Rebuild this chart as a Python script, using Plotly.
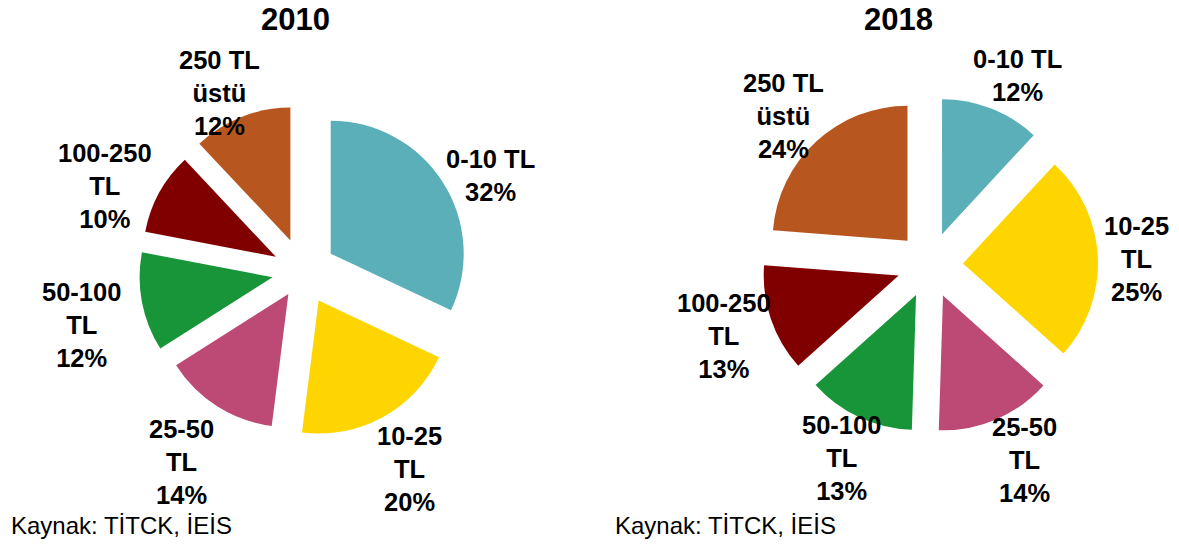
import math
import plotly.graph_objects as go

# price bands (label text with line breaks as in the source chart)
labels_2010 = ["0-10 TL", "10-25<br>TL", "25-50<br>TL", "50-100<br>TL", "100-250<br>TL", "250 TL<br>üstü"]
shares_2010 = [32, 20, 14, 12, 10, 12]

labels_2018 = ["0-10 TL", "10-25<br>TL", "25-50<br>TL", "50-100<br>TL", "100-250<br>TL", "250 TL<br>üstü"]
shares_2018 = [12, 25, 14, 13, 13, 24]

colors = ["#5BAFB9", "#FFD500", "#BC4A75", "#199539", "#800000", "#B8561F"]
font = "Arial, Liberation Sans, sans-serif"

W, H = 1179, 547
LABEL_RX, LABEL_RY = 224, 208   # label ring around each pie, px
LABEL_SIZE = 25.5


def make_pie(labels, values, pull, domain):
    return go.Pie(
        labels=labels,
        values=values,
        sort=False,
        direction="clockwise",
        rotation=0,
        pull=pull,
        marker=dict(colors=colors, line=dict(width=0)),
        textinfo="none",
        domain=domain,
        automargin=False,
        showlegend=False,
        hoverinfo="label+percent",
    )


def add_labels(fig, labels, values, domain, shift):
    # label ring centre in pixels (from the top-left); labels sit at slice mid angle
    cx = (domain["x"][0] + domain["x"][1]) / 2 * W + shift[0]
    cy = (1 - (domain["y"][0] + domain["y"][1]) / 2) * H + shift[1]
    total = sum(values)
    start = 0
    for lab, v in zip(labels, values):
        mid = (start + v / 2) / total * 2 * math.pi
        start += v
        x = cx + LABEL_RX * math.sin(mid)
        y = cy - LABEL_RY * math.cos(mid)
        # keep the label inside the page
        longest = max(len(s) for s in lab.split("<br>"))
        half_w = 0.3 * LABEL_SIZE * longest
        x = min(max(x, half_w + 4), W - 12 - half_w)
        pct = round(v / total * 100)
        fig.add_annotation(text="<b>%s<br>%d%%</b>" % (lab, pct),
                           x=x / W, y=1 - y / H, xref="paper", yref="paper",
                           xanchor="center", yanchor="middle", align="center",
                           showarrow=False,
                           font=dict(family=font, size=LABEL_SIZE, color="black"))


dom_2010 = dict(x=[0.1089, 0.3909], y=[0.2144, 0.8222])
dom_2018 = dict(x=[0.6395, 0.9245], y=[0.2230, 0.8373])

fig = go.Figure()
fig.add_trace(make_pie(labels_2010, shares_2010,
                       [0.25, 0.25, 0.2, 0.23, 0.23, 0.25], dom_2010))
fig.add_trace(make_pie(labels_2018, shares_2018,
                       [0.245] * 6, dom_2018))

add_labels(fig, labels_2010, shares_2010, dom_2010, (-1, 15))
add_labels(fig, labels_2018, shares_2018, dom_2018, (6, 4))

for txt, x in [("2010", 287), ("2018", 890)]:
    fig.add_annotation(text="<b>%s</b>" % txt, x=x / W, y=1 - 12 / H,
                       xref="paper", yref="paper", xanchor="center", yanchor="middle",
                       showarrow=False,
                       font=dict(family=font, size=31, color="black"))

for x in [1, 605]:
    fig.add_annotation(text="Kaynak: TİTCK, İEİS", x=x / W, y=1 - 517 / H,
                       xref="paper", yref="paper", xanchor="left", yanchor="middle",
                       showarrow=False,
                       font=dict(family=font, size=24, color="black"))

fig.update_layout(
    width=W,
    height=H,
    margin=dict(l=0, r=0, t=0, b=0, autoexpand=False),
    paper_bgcolor="white",
    plot_bgcolor="white",
)

fig.write_html("out.html")
